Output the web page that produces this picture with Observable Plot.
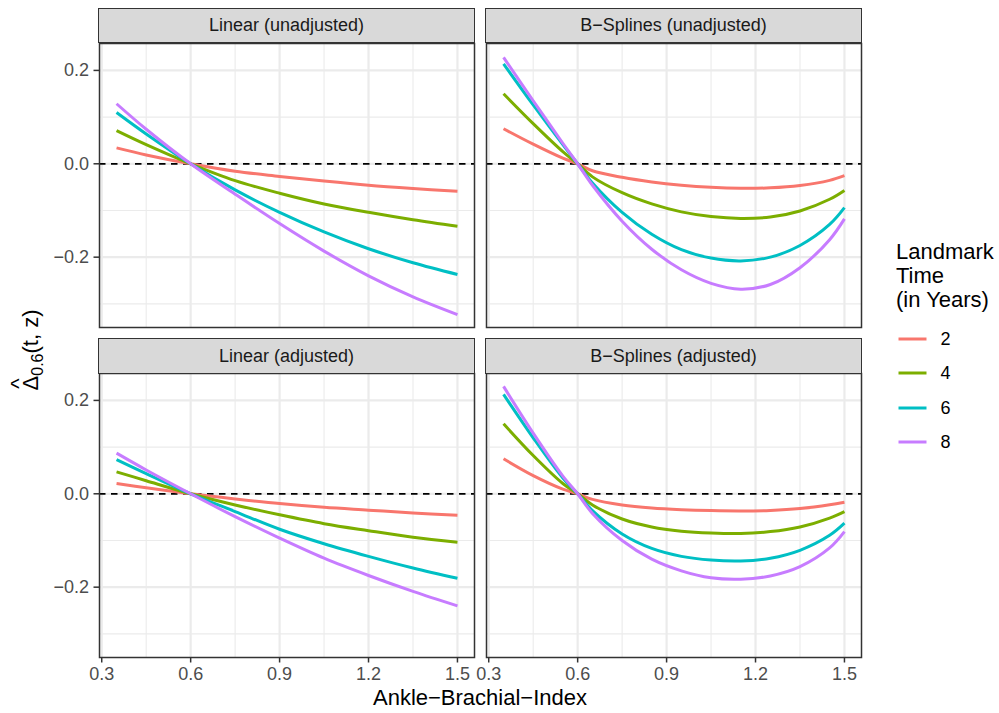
<!DOCTYPE html>
<html>
<head>
<meta charset="utf-8">
<script src="https://cdn.jsdelivr.net/npm/d3@7"></script>
<script src="https://cdn.jsdelivr.net/npm/@observablehq/plot@0.6"></script>
<style>
  html, body { margin: 0; padding: 0; background: #fff; }
  #root { position: relative; width: 999px; height: 713px; background: #fff; overflow: hidden;
          font-family: "Liberation Sans", Arial, Helvetica, sans-serif; }
  .panel { position: absolute; }
  .panel svg { overflow: visible; }
  .strip { position: absolute; box-sizing: border-box; background: #D9D9D9; border: 1.5px solid #333333;
           color: #1A1A1A; font-size: 18px; display: flex; align-items: center; justify-content: center; }
</style>
</head>
<body>
<div id="root"></div>
<script>
// ---------------- data ----------------
const landmarks = [2, 4, 6, 8];
const colors = ["#F8766D", "#7CAE00", "#00BFC4", "#C77CFF"];

const xLinear = [0.35, 0.45, 0.6, 0.75, 0.9, 1.05, 1.2, 1.35, 1.5];
const xSpline = [0.35, 0.45, 0.55, 0.6, 0.65, 0.75, 0.85, 0.95, 1.05, 1.15, 1.25, 1.35, 1.45, 1.5];

// Linear (unadjusted)
const linU_2 = [0.034, 0.019, 0, -0.016, -0.027, -0.037, -0.046, -0.053, -0.059];
const linU_4 = [0.071, 0.041, 0, -0.036, -0.063, -0.086, -0.104, -0.120, -0.134];
const linU_6 = [0.110, 0.064, 0, -0.056, -0.104, -0.146, -0.182, -0.212, -0.237];
const linU_8 = [0.1286, 0.074, 0, -0.065, -0.128, -0.187, -0.240, -0.285, -0.323];

// B-Splines (unadjusted)
const splU_2 = [0.075, 0.042, 0.012, 0, -0.015, -0.029, -0.039, -0.046, -0.0505, -0.0525, -0.0515, -0.0465, -0.0355, -0.0255];
const splU_4 = [0.150, 0.086, 0.026, 0, -0.028, -0.062, -0.086, -0.103, -0.113, -0.117, -0.114, -0.101, -0.076, -0.057];
const splU_6 = [0.214, 0.126, 0.041, 0, -0.041, -0.104, -0.151, -0.184, -0.202, -0.208, -0.200, -0.175, -0.130, -0.094];
const splU_8 = [0.228, 0.135, 0.044, 0, -0.046, -0.123, -0.183, -0.227, -0.256, -0.2685, -0.2585, -0.2225, -0.1625, -0.118];

// Linear (adjusted)
const linA_2 = [0.022, 0.013, 0, -0.011, -0.021, -0.029, -0.035, -0.041, -0.046];
const linA_4 = [0.047, 0.028, 0, -0.024, -0.045, -0.064, -0.079, -0.093, -0.104];
const linA_6 = [0.073, 0.043, 0, -0.038, -0.076, -0.107, -0.134, -0.159, -0.181];
const linA_8 = [0.087, 0.051, 0, -0.049, -0.095, -0.138, -0.175, -0.209, -0.240];

// B-Splines (adjusted)
const splA_2 = [0.075, 0.039, 0.010, 0, -0.012, -0.024, -0.0305, -0.034, -0.036, -0.0368, -0.0356, -0.0316, -0.0236, -0.018];
const splA_4 = [0.150, 0.082, 0.022, 0, -0.024, -0.054, -0.071, -0.080, -0.084, -0.085, -0.081, -0.071, -0.052, -0.038];
const splA_6 = [0.213, 0.120, 0.034, 0, -0.036, -0.086, -0.117, -0.134, -0.142, -0.144, -0.138, -0.121, -0.089, -0.063];
const splA_8 = [0.230, 0.130, 0.038, 0, -0.042, -0.100, -0.140, -0.165, -0.180, -0.183, -0.176, -0.156, -0.116, -0.081];

const panelTitles = ["Linear (unadjusted)", "B\u2212Splines (unadjusted)", "Linear (adjusted)", "B\u2212Splines (adjusted)"];
const xTicks = [0.3, 0.6, 0.9, 1.2, 1.5];
const xMinor = [0.45, 0.75, 1.05, 1.35];
const yTicks = [-0.2, 0, 0.2];
const yMinor = [-0.3, -0.1, 0.1];
const xTitle = "Ankle\u2212Brachial\u2212Index";
const legendTitle = ["Landmark", "Time", "(in Years)"];

// ---------------- build tidy tables ----------------
function tidy(xs, series) {
  const rows = [];
  series.forEach((vals, i) => vals.forEach((v, j) => rows.push({x: xs[j], y: v, t: landmarks[i]})));
  return rows;
}
const panelsData = [
  tidy(xLinear, [linU_2, linU_4, linU_6, linU_8]),
  tidy(xSpline, [splU_2, splU_4, splU_6, splU_8]),
  tidy(xLinear, [linA_2, linA_4, linA_6, linA_8]),
  tidy(xSpline, [splA_2, splA_4, splA_6, splA_8])
];
const all = panelsData.flat();
function expand([a, b]) { const d = (b - a) * 0.05; return [a - d, b + d]; }
const xDomain = expand(d3.extent(all, d => d.x));
const yDomain = expand(d3.extent(all, d => d.y));

// ---------------- layout ----------------
const root = document.getElementById("root");
const FONT = '"Liberation Sans", Arial, Helvetica, sans-serif';
const colLeft = [99, 486];
const panelW = 375;
const panelTop = [42.7, 373.3];
const stripTop = [7.5, 338.3];
const panelH = 284;
const mL = 60, mB = 45;
const fmt = d => d.toFixed(1).replace("-", "\u2212");

panelsData.forEach((data, k) => {
  const col = k % 2, row = Math.floor(k / 2);
  const showY = col === 0, showX = row === 1;
  const chart = Plot.plot({
    width: mL + panelW,
    height: panelH + mB,
    marginLeft: mL, marginRight: 0, marginTop: 0, marginBottom: mB,
    x: {domain: xDomain, axis: null},
    y: {domain: yDomain, axis: null},
    color: {type: "ordinal", domain: landmarks, range: colors},
    style: {fontFamily: FONT, fontSize: "18px", background: "transparent", overflow: "visible"},
    marks: [
      Plot.gridX(xMinor, {stroke: "#EBEBEB", strokeOpacity: 1, strokeWidth: 1.1}),
      Plot.gridY(yMinor, {stroke: "#EBEBEB", strokeOpacity: 1, strokeWidth: 1.1}),
      Plot.gridX(xTicks, {stroke: "#EBEBEB", strokeOpacity: 1, strokeWidth: 2.2}),
      Plot.gridY(yTicks, {stroke: "#EBEBEB", strokeOpacity: 1, strokeWidth: 2.2}),
      Plot.ruleY([0], {stroke: "#000", strokeWidth: 1.7, strokeDasharray: "6.5,5.5"}),
      Plot.line(data, {x: "x", y: "y", stroke: "t", curve: "catmull-rom", strokeWidth: 3, strokeLinecap: "butt"}),
      showX ? Plot.axisX(xTicks, {tickSize: 5.5, tickPadding: 4, tickFormat: fmt, fontSize: 18,
                                  fill: "#4D4D4D", stroke: "#333", strokeWidth: 1.5, label: null}) : null,
      showY ? Plot.axisY(yTicks, {tickSize: 5.5, tickPadding: 5, tickFormat: fmt, fontSize: 18,
                                  fill: "#4D4D4D", stroke: "#333", strokeWidth: 1.5, label: null}) : null,
      Plot.frame({stroke: "#333333", strokeWidth: 1.5})
    ]
  });
  const wrap = document.createElement("div");
  wrap.className = "panel";
  wrap.style.left = (colLeft[col] - mL) + "px";
  wrap.style.top = panelTop[row] + "px";
  wrap.appendChild(chart);
  root.appendChild(wrap);

  const strip = document.createElement("div");
  strip.className = "strip";
  strip.style.left = (colLeft[col] - 0.75) + "px";
  strip.style.top = stripTop[row] + "px";
  strip.style.width = (panelW + 1.5) + "px";
  strip.style.height = (panelTop[row] - stripTop[row] + 0.75) + "px";
  strip.textContent = panelTitles[k];
  root.appendChild(strip);
});

// ---------------- titles & legend (overlay svg) ----------------
const ns = "http://www.w3.org/2000/svg";
const svg = document.createElementNS(ns, "svg");
svg.setAttribute("width", 999); svg.setAttribute("height", 713);
svg.style.position = "absolute"; svg.style.left = "0"; svg.style.top = "0";
svg.style.fontFamily = FONT;
root.appendChild(svg);
function el(name, attrs, parent, text) {
  const e = document.createElementNS(ns, name);
  for (const k in attrs) e.setAttribute(k, attrs[k]);
  if (text != null) e.textContent = text;
  (parent || svg).appendChild(e);
  return e;
}
// x title
el("text", {x: 480, y: 705, "text-anchor": "middle", "font-size": 22, fill: "#000"}, svg, xTitle);
// y title (rotated)
const g = el("g", {transform: "translate(37.5,350) rotate(-90)"});
const yt = el("text", {x: 0, y: 0, "text-anchor": "middle", "font-size": 22, fill: "#000"}, g);
el("tspan", {}, yt, "\u0394");
el("tspan", {"font-size": 16, dy: 5}, yt, "0.6");
el("tspan", {dy: -5}, yt, "(t, z)");
el("text", {x: -33.5, y: -12, "text-anchor": "middle", "font-size": 22, fill: "#000"}, g, "^");
// legend
const lgX = 896;
[258.5, 283, 306.5].forEach((yy, i) => el("text", {x: lgX, y: yy, "font-size": 22, fill: "#000"}, svg, legendTitle[i]));
const keyY = [339, 373, 408, 442];
landmarks.forEach((t, i) => {
  el("line", {x1: 898.5, x2: 926.5, y1: keyY[i], y2: keyY[i], stroke: colors[i], "stroke-width": 3}, svg);
  el("text", {x: 940.5, y: keyY[i], dy: "0.36em", "font-size": 18, fill: "#000"}, svg, String(t));
});
</script>
</body>
</html>
